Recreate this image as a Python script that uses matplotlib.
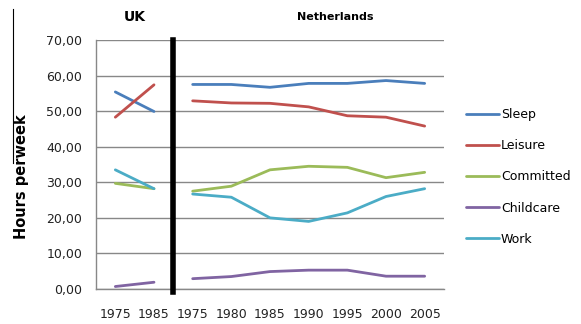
import matplotlib
matplotlib.use('Agg')
import matplotlib.pyplot as plt
from matplotlib.lines import Line2D

# hours per week by activity, UK (1975, 1985) and Netherlands (1975-2005)
uk_years = ['1975', '1985']
nl_years = ['1975', '1980', '1985', '1990', '1995', '2000', '2005']

activities = ['Sleep', 'Leisure', 'Committed', 'Childcare', 'Work']
colors = ['#4A7EBB', '#C0504D', '#9BBB59', '#8064A2', '#4BACC6']

uk_sleep = [55.4, 49.9]
uk_leisure = [48.3, 57.4]
uk_committed = [29.7, 28.2]
uk_childcare = [0.7, 1.9]
uk_work = [33.5, 28.2]

nl_sleep = [57.5, 57.5, 56.7, 57.8, 57.8, 58.6, 57.8]
nl_leisure = [52.9, 52.3, 52.2, 51.2, 48.7, 48.3, 45.8]
nl_committed = [27.5, 28.9, 33.5, 34.5, 34.2, 31.3, 32.8]
nl_childcare = [2.9, 3.5, 4.9, 5.3, 5.3, 3.6, 3.6]
nl_work = [26.7, 25.8, 20.0, 19.0, 21.4, 26.0, 28.2]

uk_series = [uk_sleep, uk_leisure, uk_committed, uk_childcare, uk_work]
nl_series = [nl_sleep, nl_leisure, nl_committed, nl_childcare, nl_work]

y_ticks = [0, 10, 20, 30, 40, 50, 60, 70]

W, H = 581, 324
fig = plt.figure(figsize=(W / 100, H / 100), dpi=100)
ax = fig.add_axes([96 / W, (H - 289) / H, 348 / W, 249 / H])

labels = uk_years + nl_years
uk_x = list(range(len(uk_years)))
nl_x = list(range(len(uk_years), len(labels)))

handles = []
for name, col, uk_vals, nl_vals in zip(activities, colors, uk_series, nl_series):
    ax.plot(uk_x, uk_vals, color=col, lw=2.0, solid_capstyle='round')
    ln, = ax.plot(nl_x, nl_vals, color=col, lw=2.0, solid_capstyle='round')
    handles.append(ln)

# thick divider between the two countries
ax.plot([len(uk_years) - 0.5] * 2, [-0.9, 70], color='black', lw=4, clip_on=False, zorder=5)

ax.set_xlim(-0.5, len(labels) - 0.5)
ax.set_ylim(0, 70)
ax.set_yticks(y_ticks)
ax.set_yticklabels([f'{v:.2f}'.replace('.', ',') for v in y_ticks])
ax.set_xticks(range(len(labels)))
ax.set_xticklabels(labels)
ax.tick_params(axis='both', length=0, labelsize=9, colors='#222222')
ax.tick_params(axis='y', pad=10)
ax.tick_params(axis='x', pad=14)

ax.yaxis.grid(True, color='#888888', lw=1)
ax.set_axisbelow(True)
for side in ['top', 'right']:
    ax.spines[side].set_visible(False)
for side in ['left', 'bottom']:
    ax.spines[side].set_color('#888888')
    ax.spines[side].set_linewidth(1)

fig.text(135 / W, 1 - 17 / H, 'UK', fontsize=10, fontweight='bold', ha='center', va='center')
fig.text(335 / W, 1 - 17 / H, 'Netherlands', fontsize=8, fontweight='bold', ha='center', va='center')
fig.text(22 / W, 1 - 177 / H, 'Hours perweek', fontsize=10.5, fontweight='bold',
         rotation=90, ha='center', va='center')

# thin rule at the left edge
fig.add_artist(Line2D([13 / W, 13 / W], [1 - 9 / H, 1 - 163 / H], color='black', lw=0.8))

fig.legend(handles, activities, loc='center left', bbox_to_anchor=(466 / W, 1 - 177 / H),
           frameon=False, fontsize=9, handlelength=2.6, handletextpad=0.2,
           labelspacing=1.45, borderaxespad=0, borderpad=0)

fig.savefig('out.png', dpi=100)
